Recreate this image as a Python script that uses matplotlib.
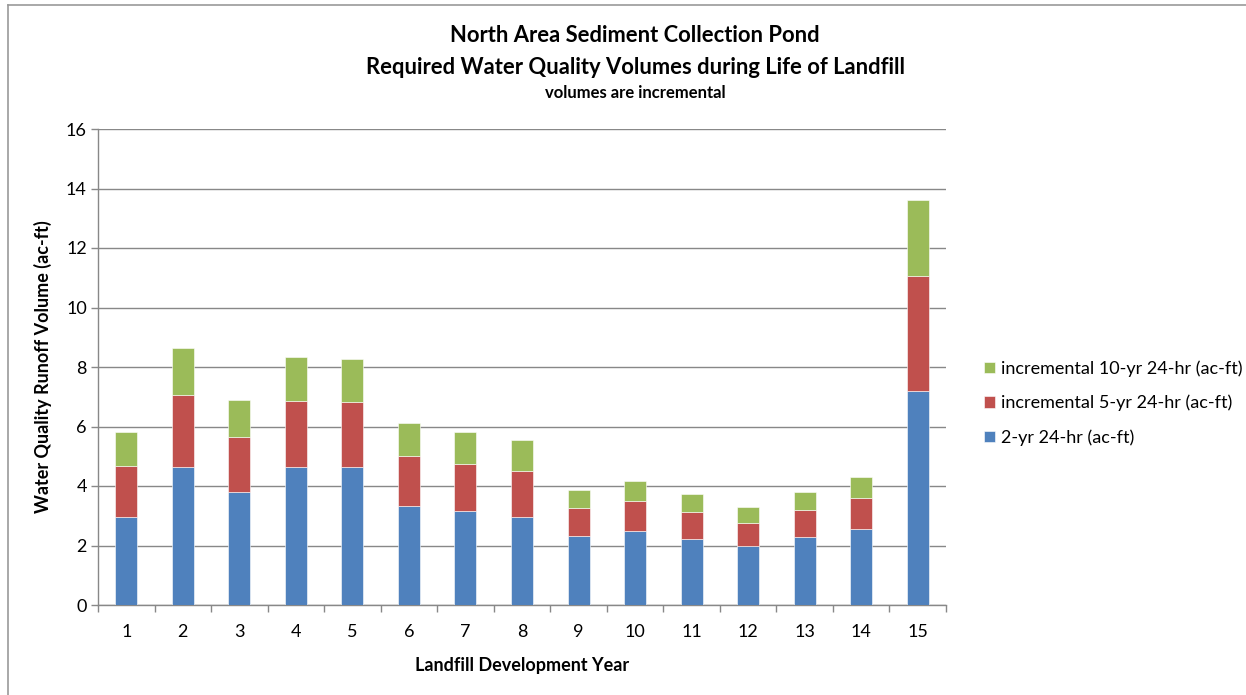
import numpy as np
import matplotlib
matplotlib.use("Agg")
import matplotlib.pyplot as plt
from matplotlib.lines import Line2D

# data: water quality volumes per landfill development year (ac-ft)
years = list(range(1, 16))
vol_2yr = [2.96, 4.65, 3.79, 4.65, 4.63, 3.33, 3.17, 2.96, 2.32, 2.49, 2.23, 1.97, 2.27, 2.57, 7.21]
inc_5yr = [1.70, 2.40, 1.87, 2.22, 2.18, 1.67, 1.57, 1.54, 0.94, 1.00, 0.90, 0.80, 0.92, 1.04, 3.86]
inc_10yr = [1.17, 1.59, 1.24, 1.46, 1.46, 1.12, 1.08, 1.03, 0.62, 0.67, 0.61, 0.52, 0.60, 0.70, 2.53]

plt.rcParams['font.family'] = ['Lato', 'DejaVu Sans']

W, H = 1246, 695
fig = plt.figure(figsize=(W / 100, H / 100), dpi=100)
ax = fig.add_axes([98 / W, (H - 605) / H, (946 - 98) / W, (605 - 129) / H])

blue, red, green = '#4F81BD', '#C0504D', '#9BBB59'
grey = '#888888'

x = np.array(years)
b2 = np.array(vol_2yr)
b5 = b2 + np.array(inc_5yr)
w = 0.39
ax.bar(x, vol_2yr, w, color=blue, edgecolor='#ffffff', linewidth=0.4,
       label='2-yr 24-hr (ac-ft)', zorder=3)
ax.bar(x, inc_5yr, w, bottom=b2, color=red, edgecolor='#ffffff', linewidth=0.4,
       label='incremental 5-yr 24-hr (ac-ft)', zorder=3)
ax.bar(x, inc_10yr, w, bottom=b5, color=green, edgecolor='#ffffff', linewidth=0.4,
       label='incremental 10-yr 24-hr (ac-ft)', zorder=3)

ax.set_xlim(0.5, 15.5)
ax.set_ylim(0, 16)
ax.set_yticks(range(0, 17, 2))
ax.set_xticks(years)
ax.set_xticks(np.arange(0.5, 16, 1), minor=True)
ax.tick_params(axis='x', which='major', length=0, pad=14, labelsize=13)
ax.tick_params(axis='x', which='minor', length=5, color=grey, width=1)
ax.tick_params(axis='y', length=5, color=grey, width=1, pad=3, labelsize=13)

ax.yaxis.grid(True, color=grey, linewidth=1, zorder=0)
for s in ['top', 'right']:
    ax.spines[s].set_visible(False)
for s in ['left', 'bottom']:
    ax.spines[s].set_color(grey)
    ax.spines[s].set_linewidth(1)

ax.set_xlabel('Landfill Development Year', fontsize=13, fontweight='bold', labelpad=12)
ax.set_ylabel('Water Quality Runoff Volume (ac-ft)', fontsize=13, fontweight='bold', labelpad=10)

fig.text(635 / W, 1 - 36 / H, 'North Area Sediment Collection Pond',
         ha='center', va='center', fontsize=15.8, fontweight='bold')
fig.text(635 / W, 1 - 67 / H, 'Required Water Quality Volumes during Life of Landfill',
         ha='center', va='center', fontsize=15.8, fontweight='bold')
fig.text(635 / W, 1 - 93 / H, 'volumes are incremental',
         ha='center', va='center', fontsize=12, fontweight='bold')

handles, labels = ax.get_legend_handles_labels()
fig.legend(handles[::-1], labels[::-1], loc='center left',
           bbox_to_anchor=(968 / W, 1 - 403 / H), frameon=False,
           fontsize=13, handlelength=0.6, handleheight=0.6,
           handletextpad=0.35, labelspacing=1.0)

# chart frame
fig.add_artist(Line2D([8 / W, 8 / W], [0, 1 - 5 / H], color='#999999', linewidth=1.2))
fig.add_artist(Line2D([8 / W, 1], [1 - 5 / H, 1 - 5 / H], color='#999999', linewidth=1.2))

fig.savefig('out.png', dpi=100, facecolor='white')
